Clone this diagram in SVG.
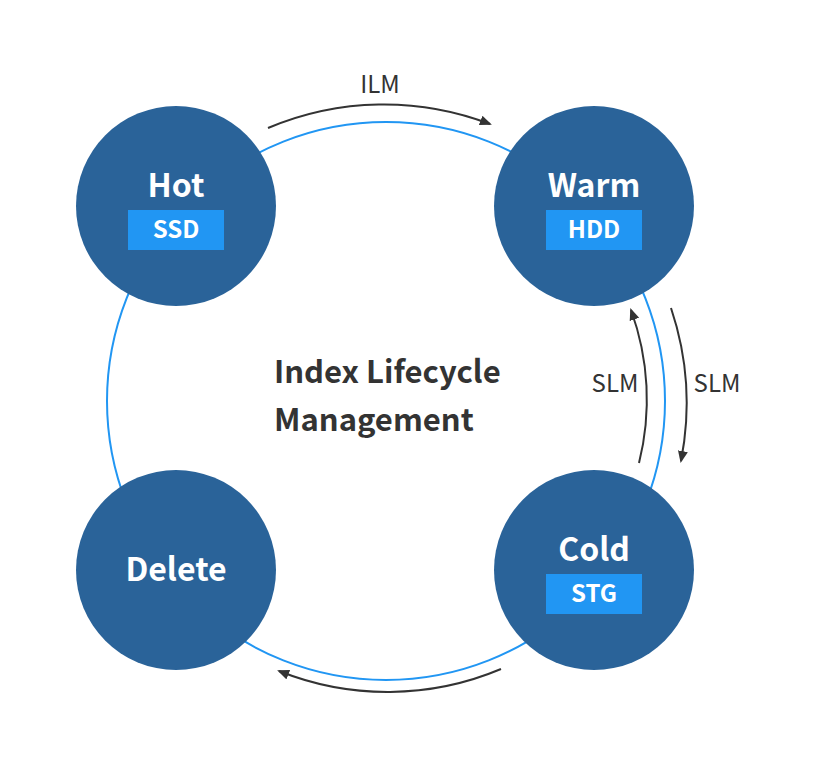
<svg xmlns="http://www.w3.org/2000/svg" width="817" height="766" viewBox="0 0 817 766">
<style>
.ring{fill:none;stroke:#2196f3;stroke-width:2}
.node{fill:#2a6399}
.tag{fill:#2196f3}
.title{font-family:"Noto Sans CJK KR","Noto Sans",sans-serif;font-weight:700;font-size:32px;fill:#fff;text-anchor:middle}
.tagt{font-family:"Noto Sans CJK KR","Noto Sans",sans-serif;font-weight:700;font-size:24px;fill:#fff;text-anchor:middle}
.lbl{font-family:"Noto Sans CJK KR","Noto Sans",sans-serif;font-weight:400;font-size:24px;fill:#333;text-anchor:middle}
.center{font-family:"Noto Sans CJK KR","Noto Sans",sans-serif;font-weight:700;font-size:31px;fill:#333}
.arr{fill:none;stroke:#333;stroke-width:2;marker-end:url(#ah)}
</style>
<defs>
<marker id="ah" markerUnits="userSpaceOnUse" markerWidth="14" markerHeight="12" refX="10" refY="5" orient="auto">
<path d="M0,0 L12,5 L0,10 z" fill="#333"/>
</marker>
</defs>
<rect width="817" height="766" fill="#fff"/>
<circle class="ring" cx="386" cy="401" r="279"/>
<g id="connectors">
<path class="arr" d="M268,128 A297,297 0 0 1 490,124"/>
<path class="arr" d="M671,308 A300,300 0 0 1 681,461"/>
<path class="arr" d="M639,463 A261,261 0 0 0 631,310"/>
<path class="arr" d="M501,669 A292,292 0 0 1 279,671"/>
<text class="lbl" x="380" y="93">ILM</text>
<text class="lbl" x="615" y="392">SLM</text>
<text class="lbl" x="717" y="392">SLM</text>
</g>
<g id="node-hot">
<circle class="node" cx="176" cy="206" r="100"/>
<text class="title" x="176" y="197">Hot</text>
<rect class="tag" x="128" y="210" width="96" height="40"/>
<text class="tagt" x="176" y="238">SSD</text>
</g>
<g id="node-warm">
<circle class="node" cx="594" cy="206" r="100"/>
<text class="title" x="594" y="197">Warm</text>
<rect class="tag" x="546" y="210" width="96" height="40"/>
<text class="tagt" x="594" y="238">HDD</text>
</g>
<g id="node-cold">
<circle class="node" cx="594" cy="570" r="100"/>
<text class="title" x="594" y="561">Cold</text>
<rect class="tag" x="546" y="574" width="96" height="40"/>
<text class="tagt" x="594" y="602">STG</text>
</g>
<g id="node-delete">
<circle class="node" cx="176" cy="570" r="100"/>
<text class="title" x="176" y="581">Delete</text>
</g>
<g id="center-label">
<text class="center" x="274" y="383">Index Lifecycle</text>
<text class="center" x="274" y="431">Management</text>
</g>
</svg>
